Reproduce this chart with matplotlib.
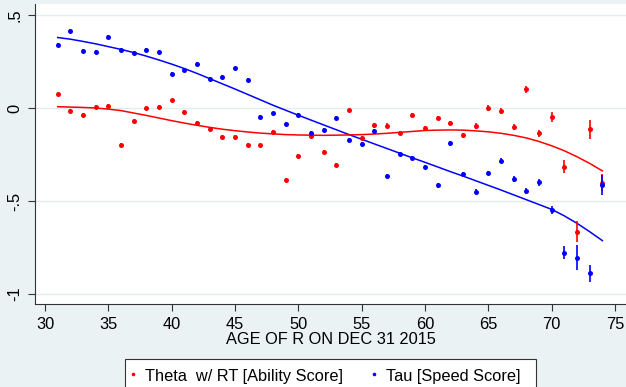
import matplotlib
matplotlib.use("Agg")
import matplotlib.pyplot as plt
from matplotlib.lines import Line2D
from matplotlib.patches import Rectangle

plt.rcParams['font.family'] = ['Liberation Sans', 'DejaVu Sans']

ages = list(range(31, 75))

theta = [0.073, -0.014, -0.038, 0.004, 0.009, -0.199, -0.068, -0.002, 0.007, 0.041,
         -0.023, -0.079, -0.111, -0.156, -0.156, -0.199, -0.201, -0.129, -0.389, -0.258,
         -0.151, -0.238, -0.305, -0.013, -0.161, -0.093, -0.095, -0.134, -0.039, -0.109,
         -0.054, -0.082, -0.147, -0.098, 0.002, -0.016, -0.102, 0.100, -0.136, -0.047,
         -0.315, -0.665, -0.115, -0.401]
theta_se = [0.010] * 25 + [0.012] * 8 + [0.015, 0.016, 0.018, 0.018, 0.020, 0.020, 0.026,
                                          0.036, 0.058, 0.050, 0.045]

tau = [0.339, 0.414, 0.305, 0.301, 0.380, 0.313, 0.296, 0.312, 0.303, 0.181,
       0.203, 0.235, 0.156, 0.167, 0.213, 0.151, -0.047, -0.029, -0.086, -0.036,
       -0.133, -0.118, -0.055, -0.170, -0.195, -0.125, -0.364, -0.247, -0.269, -0.319,
       -0.416, -0.190, -0.357, -0.450, -0.349, -0.283, -0.382, -0.446, -0.400, -0.548,
       -0.778, -0.805, -0.889, -0.412]
tau_se = [0.010] * 30 + [0.012] * 5 + [0.015, 0.016, 0.018, 0.020, 0.020, 0.034,
                                        0.067, 0.045, 0.054]

theta_fit = [0.007, 0.005, 0.003, 0.000, -0.006, -0.014, -0.027, -0.040, -0.054, -0.068,
             -0.081, -0.093, -0.104, -0.114, -0.122, -0.129, -0.135, -0.139, -0.143, -0.145,
             -0.146, -0.147, -0.146, -0.145, -0.143, -0.140, -0.136, -0.131, -0.126, -0.121,
             -0.119, -0.118, -0.119, -0.123, -0.128, -0.136, -0.147, -0.161, -0.180, -0.203,
             -0.230, -0.262, -0.298, -0.338]
tau_fit = [0.379, 0.370, 0.358, 0.345, 0.330, 0.315, 0.298, 0.279, 0.258, 0.236,
           0.212, 0.186, 0.158, 0.130, 0.102, 0.073, 0.044, 0.015, -0.012, -0.039,
           -0.065, -0.091, -0.117, -0.143, -0.168, -0.193, -0.218, -0.243, -0.268, -0.292,
           -0.317, -0.342, -0.366, -0.391, -0.416, -0.441, -0.467, -0.493, -0.519, -0.545,
           -0.580, -0.620, -0.665, -0.713]

xticks = [30, 35, 40, 45, 50, 55, 60, 65, 70, 75]
yticks = [-1, -0.5, 0, 0.5]
ytick_labels = ['-1', '-.5', '0', '.5']
xlabel = 'AGE OF R ON DEC 31 2015'
labels = ['Theta  w/ RT [Ability Score]', 'Tau [Speed Score]']
colors = ['#FF0000', '#0000FF']

BG = '#EAF2F3'
GRID = '#E4ECEF'
FS = 11.8
W, H = 626, 387

fig = plt.figure(figsize=(W / 100, H / 100), dpi=100, facecolor=BG)
ax = fig.add_axes([35 / W, (H - 304) / H, (W - 35) / W, (304 - 4) / H])
ax.set_facecolor('white')

ax.plot(ages, tau_fit, color=colors[1], lw=1.1, zorder=2)
ax.plot(ages, theta_fit, color=colors[0], lw=1.1, zorder=2)
ax.errorbar(ages, theta, yerr=theta_se, fmt='o', color=colors[0], ms=3.6, elinewidth=1.2,
            capsize=0, mew=0, zorder=3)
ax.errorbar(ages, tau, yerr=tau_se, fmt='o', color=colors[1], ms=3.6, elinewidth=1.2,
            capsize=0, mew=0, zorder=4)

ax.set_xlim(30 - 10 / 12.667, 30 + 581 / 12.667)
ax.set_ylim((108 - 304) / 186, (108 - 4) / 186)

ax.set_xticks(xticks)
ax.set_yticks(yticks)
ax.set_yticklabels(ytick_labels, rotation=90, va='center')
ax.tick_params(axis='both', labelsize=FS, length=5, width=0.8, color='#333333',
               labelcolor='black')
ax.tick_params(axis='y', pad=4)
ax.tick_params(axis='x', pad=4.2)
ax.yaxis.grid(True, color=GRID, lw=1.0)
ax.set_axisbelow(True)
for s in ['top', 'right']:
    ax.spines[s].set_visible(False)
for s in ['left', 'bottom']:
    ax.spines[s].set_color('#333333')
    ax.spines[s].set_linewidth(0.8)
ax.set_xlabel(xlabel, fontsize=FS, labelpad=0.5)

# legend box (drawn in figure pixel coordinates)
def fx(px):
    return px / W

def fy(py):
    return 1 - py / H

fig.add_artist(Rectangle((fx(125), fy(398)), fx(536) - fx(125), fy(359) - fy(398),
                         transform=fig.transFigure, facecolor='white', edgecolor='#333333',
                         lw=0.8, zorder=5))
marker_x = [133, 374]
text_x = [145, 386]
for mx, tx, lab, c in zip(marker_x, text_x, labels, colors):
    fig.add_artist(Line2D([fx(mx)], [fy(374)], transform=fig.transFigure, ls='none',
                          marker='o', color=c, ms=2.6, mew=0, zorder=6))
    fig.text(fx(tx), fy(380.5), lab, fontsize=FS, va='baseline', ha='left', zorder=6)

fig.savefig('out.png', dpi=100, facecolor=BG)
